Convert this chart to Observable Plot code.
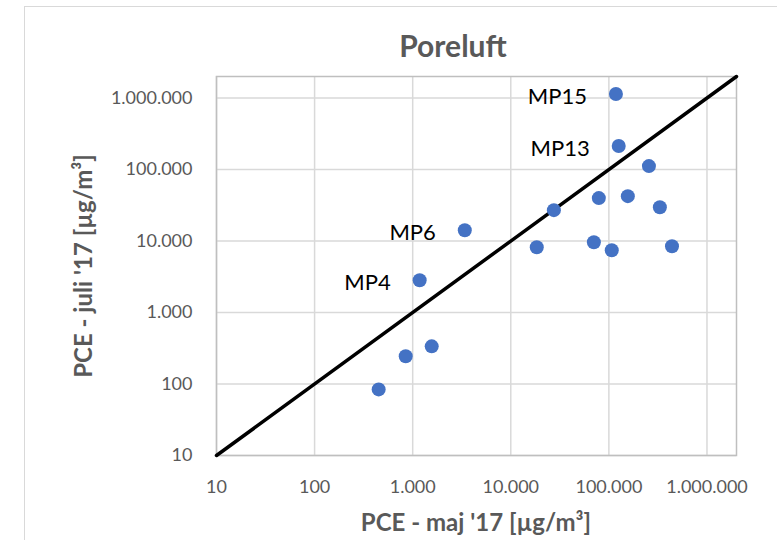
<!DOCTYPE html>
<html>
<head>
<meta charset="utf-8">
<script src="https://cdn.jsdelivr.net/npm/d3@7"></script>
<script src="https://cdn.jsdelivr.net/npm/@observablehq/plot@0.6"></script>
<style>
  html, body { margin: 0; padding: 0; background: #fff; }
  #wrap { position: relative; width: 777px; height: 540px; overflow: hidden; font-family: Lato, "Open Sans", sans-serif; }
  #frame { position: absolute; left: 24px; top: 6px; width: 900px; height: 700px; border: 1.5px solid #d9d9d9; box-sizing: border-box; }
  #chart { position: absolute; left: 0; top: 0; }
  .lbl { position: absolute; color: #595959; font-weight: bold; white-space: nowrap; line-height: 1; }
  #title { left: 453px; top: 45px; font-size: 30px; transform: translate(-50%, -50%); }
  #xlab { left: 476px; top: 522px; font-size: 24px; transform: translate(-50%, -50%); }
  #ylab { left: 83px; top: 266px; font-size: 24px; transform: translate(-50%, -50%) rotate(-90deg); }
</style>
</head>
<body>
<div id="wrap">
  <div id="frame"></div>
  <div id="chart"></div>
  <div class="lbl" id="title">Poreluft</div>
  <div class="lbl" id="xlab">PCE - maj '17 [µg/m³]</div>
  <div class="lbl" id="ylab">PCE - juli '17 [µg/m³]</div>
</div>
<script>
const pceMaj  = [450, 849, 1563, 1178, 3397, 18400, 27500, 70300, 79000, 107000, 118000, 126000, 156000, 256000, 331000, 440000];
const pceJuli = [84, 244, 336, 2825, 14150, 8180, 27000, 9600, 39800, 7430, 1137000, 213000, 42400, 111700, 29700, 8450];
const pointNames = ["", "", "", "MP4", "MP6", "", "", "", "", "", "MP15", "MP13", "", "", "", ""];
const tickValues = [10, 100, 1000, 10000, 100000, 1000000];
const axisDomain = [10, 2000000];
const lineValues = [10, 2000000];

const points = pceMaj.map((x, i) => ({x, y: pceJuli[i], name: pointNames[i]}));
const labeled = points.filter(d => d.name);
const diag = lineValues.map(v => ({x: v, y: v}));
const fmt = d3.formatLocale({decimal: ",", thousands: ".", grouping: [3], currency: ["", ""]}).format(",d");

const chart = Plot.plot({
  width: 777,
  height: 540,
  marginLeft: 216,
  marginRight: 41,
  marginTop: 76,
  marginBottom: 85,
  style: {fontFamily: "Lato, 'Open Sans', sans-serif", background: "transparent", overflow: "visible"},
  x: {type: "log", domain: axisDomain, ticks: tickValues, tickFormat: fmt, label: null},
  y: {type: "log", domain: axisDomain, ticks: tickValues, tickFormat: fmt, label: null},
  marks: [
    Plot.gridX(tickValues, {stroke: "#d9d9d9", strokeOpacity: 1, strokeWidth: 1.5}),
    Plot.gridY(tickValues, {stroke: "#d9d9d9", strokeOpacity: 1, strokeWidth: 1.5}),
    Plot.frame({stroke: "#bfbfbf", strokeWidth: 1.5}),
    Plot.axisX(tickValues, {tickSize: 0, tickPadding: 25, fontSize: 18, fill: "#595959", tickFormat: fmt}),
    Plot.axisY(tickValues, {tickSize: 0, tickPadding: 24, fontSize: 18, fill: "#595959", tickFormat: fmt}),
    Plot.line(diag, {x: "x", y: "y", stroke: "black", strokeWidth: 3.5}),
    Plot.dot(points, {x: "x", y: "y", r: 7, fill: "#4472C4", stroke: "none"}),
    Plot.text(labeled, {x: "x", y: "y", text: "name", textAnchor: "end", dx: -29, dy: 3, fontSize: 22, fill: "#000"})
  ]
});
document.getElementById("chart").appendChild(chart);
</script>
</body>
</html>
